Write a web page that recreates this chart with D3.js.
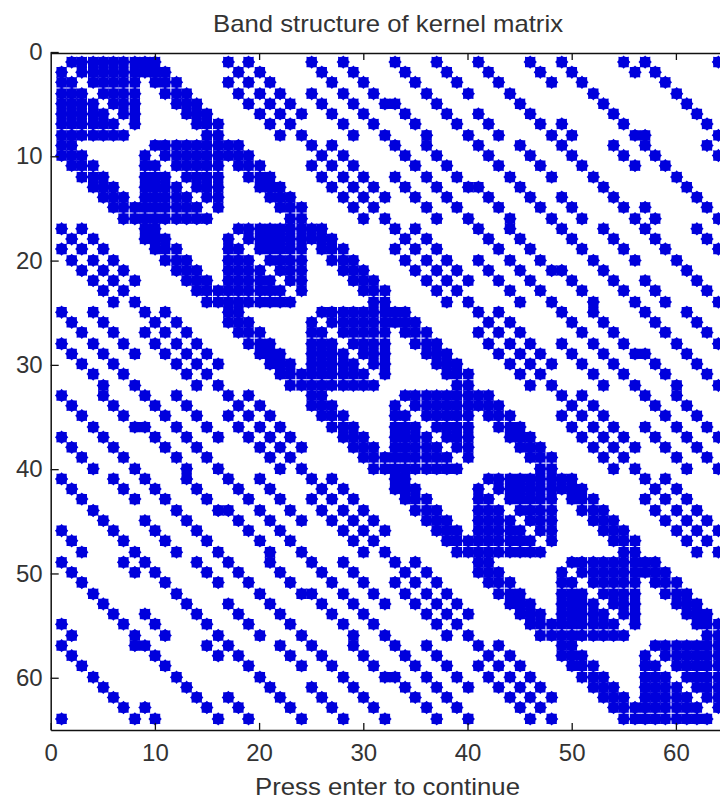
<!DOCTYPE html>
<html>
<head>
<meta charset="utf-8">
<script src="https://cdn.jsdelivr.net/npm/d3@7"></script>
<style>
  html, body { margin: 0; padding: 0; background: #fff; overflow: hidden; }
  svg { display: block; }
  text { font-family: "Liberation Sans", Arial, sans-serif; fill: #333; }
  .axis path, .axis line { stroke: #111; }
</style>
</head>
<body>
<svg id="chart" width="720" height="799"></svg>
<script>
// Non zero columns of each matrix row, one list per 8x8 block of rows
var rows1to8 = [
  [2,3,4,5,6,7,8,9,10,17,19,25,28,33,37,41,46,49,55,57,64],
  [1,3,4,5,6,7,8,9,10,11,18,20,26,29,34,38,42,47,50,56,58],
  [1,2,4,5,6,7,8,10,11,12,17,19,21,27,30,35,39,43,48,51,59],
  [1,2,3,5,6,7,8,11,12,13,18,20,22,25,28,31,36,40,44,52,60],
  [1,2,3,4,6,7,8,12,13,14,19,21,23,26,29,32,33,37,45,53,61],
  [1,2,3,4,5,7,8,13,14,15,20,22,24,27,30,34,38,41,46,54,62],
  [1,2,3,4,5,6,8,14,15,16,21,23,28,31,35,39,42,47,49,55,63],
  [1,2,3,4,5,6,7,15,16,22,24,29,32,36,40,43,48,50,56,57,64]
];
var rows9to16 = [
  [1,2,10,11,12,13,14,15,16,17,18,25,27,33,36,41,45,49,54,57,63],
  [1,2,3,9,11,12,13,14,15,16,17,18,19,26,28,34,37,42,46,50,55,58,64],
  [2,3,4,9,10,12,13,14,15,16,18,19,20,25,27,29,35,38,43,47,51,56,59],
  [3,4,5,9,10,11,13,14,15,16,19,20,21,26,28,30,33,36,39,44,48,52,60],
  [4,5,6,9,10,11,12,14,15,16,20,21,22,27,29,31,34,37,40,41,45,53,61],
  [5,6,7,9,10,11,12,13,15,16,21,22,23,28,30,32,35,38,42,46,49,54,62],
  [6,7,8,9,10,11,12,13,14,16,22,23,24,29,31,36,39,43,47,50,55,57,63],
  [7,8,9,10,11,12,13,14,15,23,24,30,32,37,40,44,48,51,56,58,64]
];
var rows17to24 = [
  [1,3,9,10,18,19,20,21,22,23,24,25,26,33,35,41,44,49,53,57,62],
  [2,4,9,10,11,17,19,20,21,22,23,24,25,26,27,34,36,42,45,50,54,58,63],
  [1,3,5,10,11,12,17,18,20,21,22,23,24,26,27,28,33,35,37,43,46,51,55,59,64],
  [2,4,6,11,12,13,17,18,19,21,22,23,24,27,28,29,34,36,38,41,44,47,52,56,60],
  [3,5,7,12,13,14,17,18,19,20,22,23,24,28,29,30,35,37,39,42,45,48,49,53,61],
  [4,6,8,13,14,15,17,18,19,20,21,23,24,29,30,31,36,38,40,43,46,50,54,57,62],
  [5,7,14,15,16,17,18,19,20,21,22,24,30,31,32,37,39,44,47,51,55,58,63],
  [6,8,15,16,17,18,19,20,21,22,23,31,32,38,40,45,48,52,56,59,64]
];
var rows25to32 = [
  [1,4,9,11,17,18,26,27,28,29,30,31,32,33,34,41,43,49,52,57,61],
  [2,5,10,12,17,18,19,25,27,28,29,30,31,32,33,34,35,42,44,50,53,58,62],
  [3,6,9,11,13,18,19,20,25,26,28,29,30,31,32,34,35,36,41,43,45,51,54,59,63],
  [1,4,7,10,12,14,19,20,21,25,26,27,29,30,31,32,35,36,37,42,44,46,49,52,55,60,64],
  [2,5,8,11,13,15,20,21,22,25,26,27,28,30,31,32,36,37,38,43,45,47,50,53,56,57,61],
  [3,6,12,14,16,21,22,23,25,26,27,28,29,31,32,37,38,39,44,46,48,51,54,58,62],
  [4,7,13,15,22,23,24,25,26,27,28,29,30,32,38,39,40,45,47,52,55,59,63],
  [5,8,14,16,23,24,25,26,27,28,29,30,31,39,40,46,48,53,56,60,64]
];
var rows33to40 = [
  [1,5,9,12,17,19,25,26,34,35,36,37,38,39,40,41,42,49,51,57,60],
  [2,6,10,13,18,20,25,26,27,33,35,36,37,38,39,40,41,42,43,50,52,58,61],
  [3,7,11,14,17,19,21,26,27,28,33,34,36,37,38,39,40,42,43,44,49,51,53,59,62],
  [4,8,9,12,15,18,20,22,27,28,29,33,34,35,37,38,39,40,43,44,45,50,52,54,57,60,63],
  [1,5,10,13,16,19,21,23,28,29,30,33,34,35,36,38,39,40,44,45,46,51,53,55,58,61,64],
  [2,6,11,14,20,22,24,29,30,31,33,34,35,36,37,39,40,45,46,47,52,54,56,59,62],
  [3,7,12,15,21,23,30,31,32,33,34,35,36,37,38,40,46,47,48,53,55,60,63],
  [4,8,13,16,22,24,31,32,33,34,35,36,37,38,39,47,48,54,56,61,64]
];
var rows41to48 = [
  [1,6,9,13,17,20,25,27,33,34,42,43,44,45,46,47,48,49,50,57,59],
  [2,7,10,14,18,21,26,28,33,34,35,41,43,44,45,46,47,48,49,50,51,58,60],
  [3,8,11,15,19,22,25,27,29,34,35,36,41,42,44,45,46,47,48,50,51,52,57,59,61],
  [4,12,16,17,20,23,26,28,30,35,36,37,41,42,43,45,46,47,48,51,52,53,58,60,62],
  [5,9,13,18,21,24,27,29,31,36,37,38,41,42,43,44,46,47,48,52,53,54,59,61,63],
  [1,6,10,14,19,22,28,30,32,37,38,39,41,42,43,44,45,47,48,53,54,55,60,62,64],
  [2,7,11,15,20,23,29,31,38,39,40,41,42,43,44,45,46,48,54,55,56,61,63],
  [3,8,12,16,21,24,30,32,39,40,41,42,43,44,45,46,47,55,56,62,64]
];
var rows49to56 = [
  [1,7,9,14,17,21,25,28,33,35,41,42,50,51,52,53,54,55,56,57,58],
  [2,8,10,15,18,22,26,29,34,36,41,42,43,49,51,52,53,54,55,56,57,58,59],
  [3,11,16,19,23,27,30,33,35,37,42,43,44,49,50,52,53,54,55,56,58,59,60],
  [4,12,20,24,25,28,31,34,36,38,43,44,45,49,50,51,53,54,55,56,59,60,61],
  [5,13,17,21,26,29,32,35,37,39,44,45,46,49,50,51,52,54,55,56,60,61,62],
  [6,9,14,18,22,27,30,36,38,40,45,46,47,49,50,51,52,53,55,56,61,62,63],
  [1,7,10,15,19,23,28,31,37,39,46,47,48,49,50,51,52,53,54,56,62,63,64],
  [2,8,11,16,20,24,29,32,38,40,47,48,49,50,51,52,53,54,55,63,64]
];
var rows57to64 = [
  [1,8,9,15,17,22,25,29,33,36,41,43,49,50,58,59,60,61,62,63,64],
  [2,10,16,18,23,26,30,34,37,42,44,49,50,51,57,59,60,61,62,63,64],
  [3,11,19,24,27,31,35,38,41,43,45,50,51,52,57,58,60,61,62,63,64],
  [4,12,20,28,32,33,36,39,42,44,46,51,52,53,57,58,59,61,62,63,64],
  [5,13,21,25,29,34,37,40,43,45,47,52,53,54,57,58,59,60,62,63,64],
  [6,14,17,22,26,30,35,38,44,46,48,53,54,55,57,58,59,60,61,63,64],
  [7,9,15,18,23,27,31,36,39,45,47,54,55,56,57,58,59,60,61,62,64],
  [1,8,10,16,19,24,28,32,37,40,46,48,55,56,57,58,59,60,61,62,63]
];
var xTicks = [0, 10, 20, 30, 40, 50, 60];
var yTicks = [0, 10, 20, 30, 40, 50, 60];

var matrixRows = [].concat(rows1to8, rows9to16, rows17to24, rows25to32,
                           rows33to40, rows41to48, rows49to56, rows57to64);

var cells = [];
matrixRows.forEach(function(cols, i) {
  cols.forEach(function(c) { cells.push({row: i + 1, col: c}); });
});

var svg = d3.select("#chart");

var left = 50.7, top_ = 52, unit = 10.42;
var x = d3.scaleLinear().domain([0, 65]).range([left, left + 65 * unit]);
var y = d3.scaleLinear().domain([0, 65]).range([top_, top_ + 65 * unit]);

// the old raster put the markers on a coarse pixel grid, that is where the
// white dashes through the solid blocks come from (every 4th step is a bit longer)
var grid = unit / 8.25;
function snap(v, start) {
  return start + Math.floor((v - start) / grid + 1e-6) * grid;
}

// spiky marker, one octant at a time: tip, notch, shoulder, diagonal tip, shoulder, notch
var octant = [[0, 6.7], [13, 5.55], [33, 6.1], [45, 7.4], [57, 6.1], [77, 5.55]];
var outline = [];
d3.range(4).forEach(function(q) {
  octant.forEach(function(p) { outline.push([(p[0] + q * 90) * Math.PI / 180, p[1]]); });
});
var marker = d3.lineRadial().curve(d3.curveLinearClosed)(outline);

svg.append("g").selectAll("path.cell")
  .data(cells)
  .enter().append("path")
    .attr("class", "cell")
    .attr("d", marker)
    .attr("fill", "#0000dc")
    .attr("transform", function(d) {
      return "translate(" + (snap(x(d.col), left) + 0.8) + "," + snap(y(d.row), top_) + ")";
    });

var frameBottom = y(65) + 0.6, frameTop = 53;
var yFrame = d3.scaleLinear().domain([0, 65]).range([top_, frameBottom]);

var axisBottom = d3.axisBottom(x).tickValues(xTicks).tickSizeInner(-7).tickSizeOuter(0).tickPadding(14);
var axisTop = d3.axisTop(x).tickValues(xTicks.slice(1)).tickSizeInner(-7).tickSizeOuter(0).tickFormat("");
var axisLeft = d3.axisLeft(yFrame).tickValues(yTicks).tickSizeInner(-8).tickSizeOuter(0).tickPadding(8);

svg.append("g").attr("class", "axis").attr("transform", "translate(0," + frameBottom + ")").call(axisBottom);
svg.append("g").attr("class", "axis").attr("transform", "translate(0," + frameTop + ")").call(axisTop);
svg.append("g").attr("class", "axis").attr("transform", "translate(" + left + ",0)").call(axisLeft);

svg.selectAll(".axis path").attr("stroke-width", 1.5);
svg.selectAll(".axis line").attr("stroke-width", 1.3);
svg.selectAll(".axis text").attr("font-size", 24).attr("fill", "#333");

svg.append("text")
  .attr("x", 213).attr("y", 32)
  .attr("font-size", 24)
  .attr("textLength", 350)
  .attr("lengthAdjust", "spacingAndGlyphs")
  .text("Band structure of kernel matrix");

svg.append("text")
  .attr("x", 255).attr("y", 795)
  .attr("font-size", 24)
  .attr("textLength", 265)
  .attr("lengthAdjust", "spacingAndGlyphs")
  .text("Press enter to continue");
</script>
</body>
</html>
